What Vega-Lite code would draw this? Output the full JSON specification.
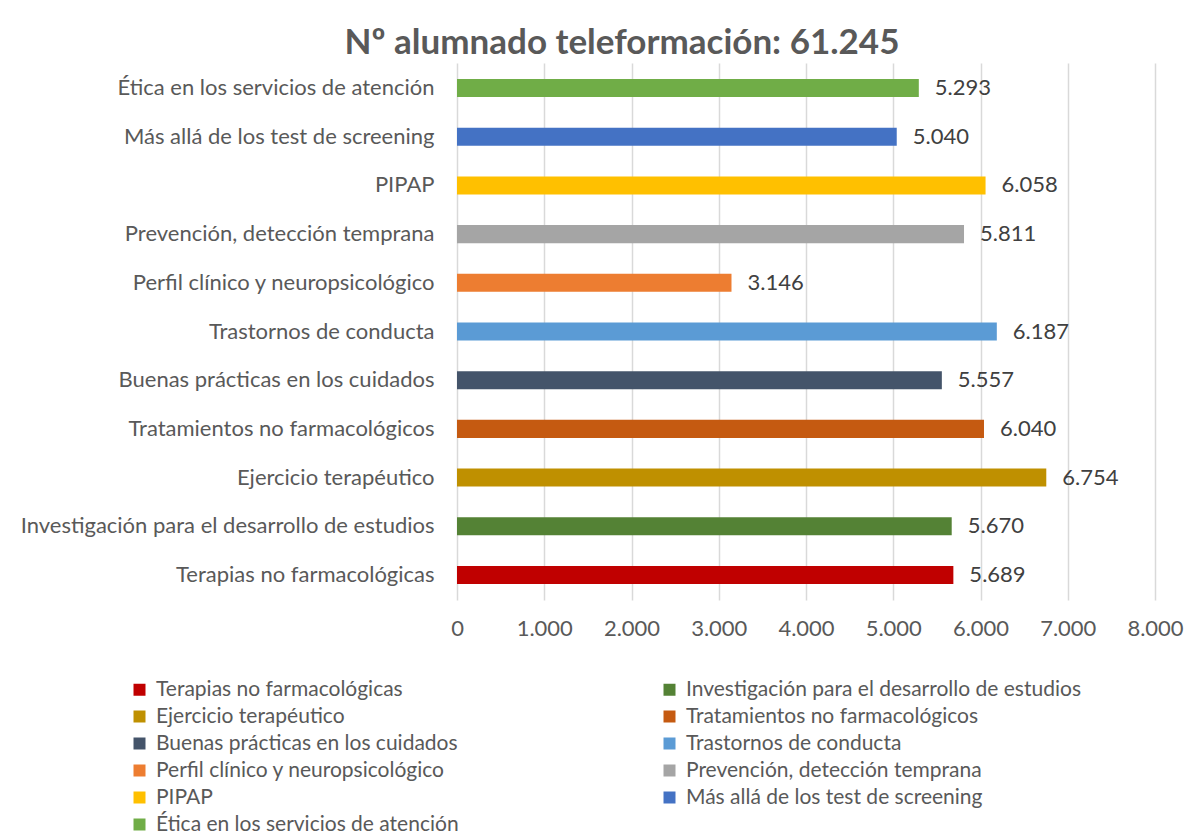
{
  "$schema": "https://vega.github.io/schema/vega-lite/v6.json",
  "width": 698,
  "height": 537,
  "autosize": "none",
  "padding": {"left": 457, "top": 63, "right": 32, "bottom": 239},
  "background": "white",
  "title": {
    "text": "Nº alumnado teleformación: 61.245",
    "font": "Lato",
    "fontSize": 35,
    "fontWeight": "bold",
    "color": "#595959",
    "anchor": "middle",
    "frame": "group",
    "dx": -184,
    "offset": 2
  },
  "data": {
    "values": [
      {"curso": "Terapias no farmacológicas", "alumnos": 5689},
      {"curso": "Investigación para el desarrollo de estudios", "alumnos": 5670},
      {"curso": "Ejercicio terapéutico", "alumnos": 6754},
      {"curso": "Tratamientos no farmacológicos", "alumnos": 6040},
      {"curso": "Buenas prácticas en los cuidados", "alumnos": 5557},
      {"curso": "Trastornos de conducta", "alumnos": 6187},
      {"curso": "Perfil clínico y neuropsicológico", "alumnos": 3146},
      {"curso": "Prevención, detección temprana", "alumnos": 5811},
      {"curso": "PIPAP", "alumnos": 6058},
      {"curso": "Más allá de los test de screening", "alumnos": 5040},
      {"curso": "Ética en los servicios de atención", "alumnos": 5293}
    ]
  },
  "encoding": {
    "y": {
      "field": "curso",
      "type": "nominal",
      "sort": [
        "Ética en los servicios de atención",
        "Más allá de los test de screening",
        "PIPAP",
        "Prevención, detección temprana",
        "Perfil clínico y neuropsicológico",
        "Trastornos de conducta",
        "Buenas prácticas en los cuidados",
        "Tratamientos no farmacológicos",
        "Ejercicio terapéutico",
        "Investigación para el desarrollo de estudios",
        "Terapias no farmacológicas"
      ],
      "scale": {"paddingInner": 0.63, "paddingOuter": 0.33},
      "axis": {
        "title": null,
        "domain": false,
        "ticks": false,
        "grid": false,
        "labelFont": "Lato",
        "labelFontSize": 22,
        "labelColor": "#595959",
        "labelPadding": 23,
        "labelLimit": 500
      }
    },
    "x": {
      "field": "alumnos",
      "type": "quantitative",
      "scale": {"domain": [0, 8000], "nice": false},
      "axis": {
        "title": null,
        "values": [0, 1000, 2000, 3000, 4000, 5000, 6000, 7000, 8000],
        "format": ",d",
        "domain": false,
        "ticks": false,
        "grid": true,
        "gridColor": "#D9D9D9",
        "gridWidth": 1.5,
        "labelFlush": false,
        "labelFont": "Lato",
        "labelFontSize": 22,
        "labelColor": "#595959",
        "labelPadding": 18
      }
    }
  },
  "layer": [
    {
      "mark": {"type": "bar"},
      "encoding": {
        "color": {
          "field": "curso",
          "type": "nominal",
          "scale": {
            "domain": [
              "Terapias no farmacológicas",
              "Investigación para el desarrollo de estudios",
              "Ejercicio terapéutico",
              "Tratamientos no farmacológicos",
              "Buenas prácticas en los cuidados",
              "Trastornos de conducta",
              "Perfil clínico y neuropsicológico",
              "Prevención, detección temprana",
              "PIPAP",
              "Más allá de los test de screening",
              "Ética en los servicios de atención"
            ],
            "range": ["#C00000", "#548235", "#BF9000", "#C55A11", "#44546A", "#5B9BD5", "#ED7D31", "#A5A5A5", "#FFC000", "#4472C4", "#70AD47"]
          },
          "legend": {
            "title": null,
            "orient": "none",
            "legendX": -328,
            "legendY": 616,
            "columns": 2,
            "direction": "horizontal",
            "symbolType": "square",
            "symbolSize": 144,
            "symbolStrokeWidth": 0,
            "labelFont": "Lato",
            "labelFontSize": 21,
            "labelColor": "#595959",
            "labelOffset": 6,
            "labelLimit": 600,
            "rowPadding": 5,
            "columnPadding": 108,
            "gridAlign": "all"
          }
        }
      }
    },
    {
      "mark": {"type": "text", "align": "left", "baseline": "middle", "dx": 16, "font": "Lato", "fontSize": 22, "color": "#404040"},
      "encoding": {
        "text": {"field": "alumnos", "type": "quantitative", "format": ",d"}
      }
    }
  ],
  "config": {
    "locale": {"number": {"decimal": ",", "thousands": ".", "grouping": [3], "currency": ["", " €"]}},
    "view": {"stroke": null}
  }
}
